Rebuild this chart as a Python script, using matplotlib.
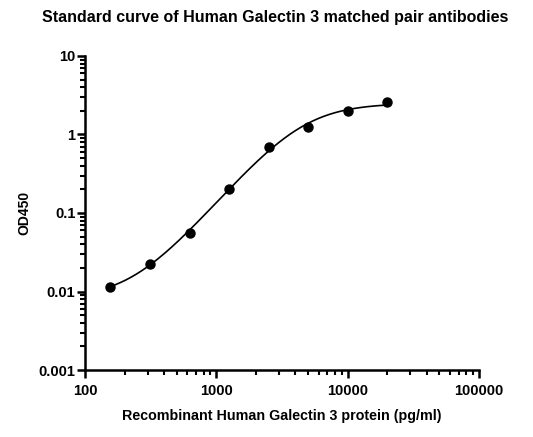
import numpy as np
import matplotlib.pyplot as plt
from matplotlib.ticker import LogLocator, FixedLocator, NullFormatter

plt.rcParams['font.family'] = ['Liberation Sans', 'DejaVu Sans']

# standard curve data
conc = [156.25, 312.5, 625, 1250, 2500, 5000, 10000, 20000]
od450 = [0.0115, 0.0224, 0.056, 0.204, 0.70, 1.26, 2.0, 2.59]

title = "Standard curve of Human Galectin 3 matched pair antibodies"
xlabel = "Recombinant Human Galectin 3 protein (pg/ml)"
ylabel = "OD450"
xticks = [100, 1000, 10000, 100000]
xtick_labels = ["100", "1000", "10000", "100000"]
yticks = [0.001, 0.01, 0.1, 1, 10]
ytick_labels = ["0.001", "0.01", "0.1", "1", "10"]


def four_pl(x, a, b, c, d):
    return d + (a - d) / (1 + (x / c) ** b)


# rough 4PL fit (grid search on log error)
x = np.array(conc)
y = np.array(od450)
A = np.logspace(-3, -1.7, 14)[:, None, None, None]
B = np.linspace(1.0, 2.5, 31)[None, :, None, None]
C = np.logspace(3, 4, 41)[None, None, :, None]
D = np.linspace(2.4, 4.0, 33)[None, None, None, :]
pred = four_pl(x[:, None, None, None, None], A, B, C, D)
pred = np.clip(pred, 1e-6, None)
err = ((np.log10(pred) - np.log10(y)[:, None, None, None, None]) ** 2).sum(axis=0)
idx = np.unravel_index(np.argmin(err), err.shape)
a, b, c, d = A.ravel()[idx[0]], B.ravel()[idx[1]], C.ravel()[idx[2]], D.ravel()[idx[3]]

xs = np.logspace(np.log10(conc[0]), np.log10(conc[-1]), 300)

fig = plt.figure(figsize=(5.33, 4.37), dpi=100)
ax = fig.add_axes([0.1595, 0.1533, 0.7392, 0.7186])
ax.plot(xs, four_pl(xs, a, b, c, d), color="black", lw=1.2)
ax.plot(conc, od450, "o", color="black", ms=6.5)

ax.set_xscale("log")
ax.set_yscale("log")
ax.set_xlim(100, 100000)
ax.set_ylim(0.001, 10)

ax.xaxis.set_major_locator(FixedLocator(xticks))
ax.set_xticklabels(xtick_labels)
ax.yaxis.set_major_locator(FixedLocator(yticks))
ax.set_yticklabels(ytick_labels)
ax.xaxis.set_minor_locator(LogLocator(base=10, subs=np.arange(2, 10)))
ax.yaxis.set_minor_locator(LogLocator(base=10, subs=np.arange(2, 10)))
ax.xaxis.set_minor_formatter(NullFormatter())
ax.yaxis.set_minor_formatter(NullFormatter())

for s in ["top", "right"]:
    ax.spines[s].set_visible(False)
for s in ["left", "bottom"]:
    ax.spines[s].set_linewidth(1.8)

ax.tick_params(which="major", length=6, width=1.8, labelsize=10.5)
ax.tick_params(axis="y", which="major", pad=1)
ax.tick_params(axis="x", which="major", pad=4)
ax.tick_params(which="minor", length=3.5, width=1.5)
for lab in ax.get_xticklabels() + ax.get_yticklabels():
    lab.set_fontweight("bold")

ax.set_xlabel(xlabel, fontsize=10.3, fontweight="bold", labelpad=8)
ax.set_ylabel(ylabel, fontsize=10, fontweight="bold", labelpad=5)
fig.suptitle(title, fontsize=11.5, fontweight="bold", x=0.517, y=0.978)

fig.savefig("out.png", dpi=100)
